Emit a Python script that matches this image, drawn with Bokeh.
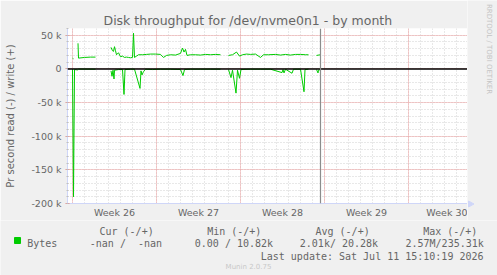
import numpy as np
from bokeh.plotting import figure
from bokeh.layouts import column, row
from bokeh.models import Range1d, FixedTicker, Span, ColumnDataSource
from bokeh.core.properties import value
from bokeh.embed import file_html
from bokeh.resources import INLINE

# ---------------- data ----------------
TITLE = "Disk throughput for /dev/nvme0n1 - by month"
Y_LABEL = "Pr second read (-) / write (+)"
week_labels = ["Week 26", "Week 27", "Week 28", "Week 29", "Week 30"]
week_mid_hours = [84, 252, 420, 588, 756]
week_start_hours = [0, 168, 336, 504, 672]
y_ticks = [-200000, -150000, -100000, -50000, 0, 50000]
y_tick_labels = ["-200 k", "-150 k", "-100 k", "-50 k", "0", "50 k"]

nan = float("nan")
# hours since start of Week 26, write rate in kB/s
write_hours = [0, 2, 4,
               11, 12, 24, 36, 46, 47,
               77, 80, 82, 84, 86, 88, 92, 96, 100, 104, 108, 112, 116, 120, 122, 124,
               128, 132, 140, 148, 156, 166, 176, 182, 188, 196, 206, 216, 220, 223,
               226, 229, 236, 246, 256, 266, 276, 286, 296, 297,
               312, 320, 328, 334, 340, 348, 356, 366, 376, 382, 392, 406, 416, 426,
               436, 446, 456, 466, 472, 473,
               488, 496]
write_kbps = [16, 15, nan,
              38, 16, 17, 17.5, 17.5, nan,
              32, 27, 26, 33, 27, 21, 24, 18, 19, 17, 17.5, 17, 16.5, 17, 53, 17,
              19, 21, 21, 21.5, 22, 22, 21.5, 17, 20, 21, 20.5, 23, 31, 25,
              29, 20, 21, 21, 20.5, 21.5, 21, 21.5, 21, nan,
              20, 21, 25, 19, 21, 22, 21.5, 22, 17, 21, 21, 21.5, 20.5, 21.5,
              20.5, 21.5, 21.5, 21, 21, nan,
              20, 21]
# read rate in kB/s (drawn negative)
read_hours = [0, 2, 4, 10, 12, 46, 47,
              77, 79, 81, 83, 84, 92, 100, 103, 105, 116, 124, 135, 137, 139, 142,
              146, 160, 176, 196, 216, 221, 224, 236, 256, 276, 296, 297,
              312, 317, 320, 327, 330, 334, 337, 356, 376, 396, 419, 421, 423, 426,
              439, 442, 456, 463, 465, 472, 473,
              488, 491, 492, 496]
read_kbps = [0.5, 190, 1, 1.5, 0.3, 0.5, nan,
             3, 11, 2, 15, 2, 1, 1, 38, 1, 0.5, 0.5, 29, 3, 9, 4,
             0.5, 1, 0.5, 0.5, 1, 10, 1, 0.5, 0.5, 0.5, 0.5, nan,
             1, 13, 2, 36, 2, 14, 1, 0.5, 0.5, 0.5, 5.5, 1, 6, 0.5,
             6.5, 0.5, 0.5, 34, 1, 0.5, nan,
             1, 6, 2, 1]
last_update_hour = 496

legend_name = "Bytes"
legend_cols = ["Cur (-/+)", "Min (-/+)", "Avg (-/+)", "Max (-/+)"]
legend_vals = ["-nan /\u00a0\u00a0-nan", "0.00 / 10.82k", "2.01k/ 20.28k", "2.57M/235.31k"]
last_update = "Last update: Sat Jul 11 15:10:19 2026"
footer = "Munin 2.0.75"
side_text = "RRDTOOL / TOBI OETIKER"

# ---------------- styles ----------------
GREEN = "#00CC00"
FONT_C = "#666666"
AXIS_C = "#CFD6F8"
MGRID = "#EFA0A0"
GRID = "#D0D0D0"
BACK = "#F0F0F0"


def canvas_fig(w, h, x0, y0):
    """A helper figure whose frame is the whole area, in page pixel units."""
    f = figure(width=w, height=h, output_backend="svg", toolbar_location=None,
               title_location=None, x_axis_location=None, y_axis_location=None,
               x_range=Range1d(x0, x0 + w), y_range=Range1d(y0 + h, y0),
               min_border=0, background_fill_color=BACK, border_fill_color=BACK,
               outline_line_color=None, frame_align=False)
    f.grid.visible = False
    return f


def txt(f, x, y, t, font="DejaVu Sans Mono", size="10px", color=FONT_C,
        align="left", baseline="alphabetic", angle=0.0):
    f.text(x=[x], y=[y], text=[t], text_font=value(font), text_font_size=value(size),
           text_color=color, text_align=align, text_baseline=baseline, angle=angle)


# ---------------- main chart ----------------
p = figure(width=467, height=220, output_backend="svg", toolbar_location=None,
           title=TITLE,
           x_range=Range1d(-10, 790), y_range=Range1d(-200000, 60000),
           min_border_left=67, min_border_right=0, min_border_top=28,
           min_border_bottom=17, frame_align=False,
           background_fill_color="white", border_fill_color=BACK,
           outline_line_color=None)
p.title.align = "left"
p.title.offset = 36
p.title.standoff = 2
p.title.text_font = "DejaVu Sans"
p.title.text_font_size = "12.5px"
p.title.text_font_style = "normal"
p.title.text_color = FONT_C

p.xgrid.ticker = FixedTicker(ticks=week_start_hours,
                             minor_ticks=list(range(0, 792, 24)))
p.ygrid.ticker = FixedTicker(ticks=y_ticks,
                             minor_ticks=list(range(-200000, 60001, 10000)))
for g in (p.xgrid, p.ygrid):
    g.grid_line_color = MGRID
    g.grid_line_dash = "1 1"
    g.grid_line_width = 1
    g.minor_grid_line_color = GRID
    g.minor_grid_line_dash = "1 2"
    g.minor_grid_line_width = 1

xa = p.xaxis[0]
xa.ticker = FixedTicker(ticks=week_mid_hours)
xa.major_label_overrides = {h: l for h, l in zip(week_mid_hours, week_labels)}
xa.major_tick_line_color = None
xa.minor_tick_line_color = None
xa.major_tick_out = 0
xa.major_tick_in = 0
xa.minor_tick_out = 0
xa.minor_tick_in = 0
xa.axis_label_standoff = 0
xa.axis_line_color = AXIS_C
xa.major_label_text_font = "DejaVu Sans"
xa.major_label_text_font_size = "9.5px"
xa.major_label_text_color = FONT_C
xa.major_label_standoff = 3

ya = p.yaxis[0]
ya.ticker = FixedTicker(ticks=y_ticks,
                        minor_ticks=list(range(-200000, 60001, 10000)))
ya.major_label_overrides = {t: l for t, l in zip(y_ticks, y_tick_labels)}
ya.axis_line_color = AXIS_C
ya.major_tick_line_color = "#E89090"
ya.major_tick_out = 2
ya.major_tick_in = 2
ya.minor_tick_line_color = "#C0C0C0"
ya.minor_tick_out = 1
ya.minor_tick_in = 1
ya.major_label_text_font = "DejaVu Sans"
ya.major_label_text_font_size = "9.5px"
ya.major_label_text_color = FONT_C
ya.major_label_standoff = 4
ya.axis_label = Y_LABEL
ya.axis_label_text_font = "DejaVu Sans"
ya.axis_label_text_font_size = "10px"
ya.axis_label_text_font_style = "normal"
ya.axis_label_text_color = FONT_C
ya.axis_label_standoff = 12

w_src = ColumnDataSource(dict(x=write_hours, y=np.array(write_kbps) * 1000.0))
r_src = ColumnDataSource(dict(x=read_hours, y=-np.array(read_kbps) * 1000.0))
p.line("x", "y", source=w_src, line_color=GREEN, line_width=1)
p.line("x", "y", source=r_src, line_color=GREEN, line_width=1)

p.add_layout(Span(location=0, dimension="width", line_color="black", line_width=1.5))
p.add_layout(Span(location=last_update_hour, dimension="height",
                  line_color="#8C8C8C", line_width=1.2))

# ---------------- right strip ----------------
side = canvas_fig(30, 220, 467, 0)
txt(side, 488.5, 48.5, side_text, font="DejaVu Sans", size="7px", color="#C4C4C4",
    align="center", baseline="middle", angle=-np.pi / 2)
side.patch([468, 473.5, 468], [200.5, 203.5, 206.5], fill_color=AXIS_C,
           line_color=AXIS_C)

# ---------------- legend strip ----------------
leg = canvas_fig(497, 55, 0, 220)
for x, t in zip([99, 206.7, 315, 422.7], legend_cols):
    txt(leg, x, 230.5, t)
leg.quad(left=[14], right=[20], top=[237], bottom=[243], fill_color=GREEN,
         line_color=GREEN)
txt(leg, 26.7, 243, legend_name)
for x, t in zip([89.3, 194.3, 299.3, 405], legend_vals):
    txt(leg, x, 243, t)
txt(leg, 483, 255.5, last_update, align="right")
txt(leg, 248, 266.5, footer, font="DejaVu Sans", size="7px", color="#C8C8C8",
    align="center")

layout = column(row(p, side, spacing=0), leg, spacing=0)
open("out.html", "w").write(file_html(layout, INLINE))
